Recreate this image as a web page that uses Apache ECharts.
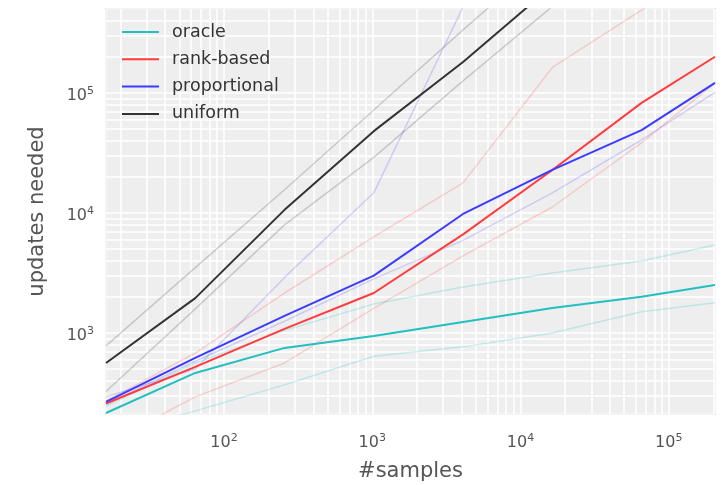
<!DOCTYPE html>
<html><head><meta charset="utf-8">
<script src="https://cdn.jsdelivr.net/npm/echarts@6/dist/echarts.min.js"></script>
<style>html,body{margin:0;padding:0;background:#fff}#c{width:726px;height:485px}</style>
</head><body><div id="c"></div>
<script>
// x positions (#samples)
const samples = [16, 64, 256, 1024, 4096, 16384, 65536, 205000];
// main curves
const oracle       = [215, 464, 750, 944, 1235, 1615, 2000, 2510];
const rankBased    = [258, 521, 1080, 2150, 6630, 22800, 82500, 200000];
const proportional = [266, 620, 1385, 3000, 9800, 22800, 49000, 121000];
const uniform      = [562, 1950, 10600, 48000, 181000, 780000, 3200000, 10000000];
// faint bands (upper / lower)
const oracleHi = [245, 560, 1050, 1740, 2417, 3160, 3980, 5400];
const oracleLo = [137, 224, 369, 640, 765, 1000, 1500, 1780];
const rankHi   = [270, 680, 2150, 6300, 17800, 163000, 490000, 1200000];
const rankLo   = [119, 293, 562, 1600, 4380, 11200, 38300, 121000];
const propHi   = [293, 500, 2900, 14700, 520000, 2000000, 8000000, 20000000];
const propLo   = [255, 580, 1250, 2820, 5900, 14700, 40500, 101000];
const uniHi    = [780, 3500, 15600, 72000, 335000, 1500000, 6000000, 20000000];
const uniLo    = [325, 1585, 7940, 29000, 126000, 525000, 2200000, 7000000];
// axis ranges and decades
const xRange = [16, 205000];
const yRange = [211, 500000];
const xDecades = [10, 100, 1000, 10000, 100000];
const yDecades = [100, 1000, 10000, 100000];
const legendNames = ['oracle', 'rank-based', 'proportional', 'uniform'];

function minorTicks(decades, range) {
  const out = [];
  decades.forEach(d => { for (let k = 2; k <= 9; k++) { const v = d * k; if (v > range[0] && v < range[1]) out.push(v); } });
  return out;
}
const pts = vals => samples.map((x, i) => [x, vals[i]]);
function line(name, vals, color, width, z) {
  return { name, type: 'line', data: pts(vals), symbol: 'none', showSymbol: false, clip: true,
    lineStyle: { color, width }, itemStyle: { color }, z, silent: true, animation: false };
}
function isPow10(v) { const l = Math.log10(v); return Math.abs(l - Math.round(l)) < 1e-6; }
function fmt(v) { if (!isPow10(v)) return ''; return '{b|10}{s|' + Math.round(Math.log10(v)) + '}'; }
const rich = { b: { fontSize: 16, color: '#555', fontFamily: 'DejaVu Sans' },
               s: { fontSize: 11, color: '#555', fontFamily: 'DejaVu Sans', padding: [0, 0, 9, 0] } };

const lineOpt = { color: '#ffffff', width: 1.5, type: 'solid' };
const gridSeries = { name: '_grid', type: 'line', data: [], z: 1, silent: true, animation: false,
  markLine: { z: 1, silent: true, symbol: ['none', 'none'], label: { show: false }, animation: false,
    lineStyle: lineOpt, emphasis: { disabled: true },
    data: minorTicks(xDecades, xRange).map(v => ({ xAxis: v }))
      .concat(minorTicks(yDecades, yRange).map(v => ({ yAxis: v }))) } };

const chart = echarts.init(document.getElementById('c'));
chart.setOption({
  animation: false,
  textStyle: { fontFamily: 'DejaVu Sans' },
  grid: { left: 106, right: 11, top: 9, bottom: 71, show: true, backgroundColor: '#eeeeee',
          borderColor: '#c2c2c2', borderWidth: 1.5, containLabel: false, outerBoundsMode: 'none' },
  legend: { data: legendNames, orient: 'vertical', left: 117, top: 18, itemWidth: 37, itemHeight: 18,
            icon: 'path://M0,0 L37,0 L37,2 L0,2 Z', z: 10,
            itemGap: 9.3, textStyle: { fontSize: 17.5, color: '#333', fontFamily: 'DejaVu Sans', padding: [0, 0, 0, 8] } },
  xAxis: { type: 'log', logBase: 10, min: xRange[0], max: xRange[1],
    name: '#samples', nameLocation: 'middle', nameGap: 47,
    nameTextStyle: { fontSize: 21, color: '#555', fontFamily: 'DejaVu Sans' },
    axisLine: { show: false }, axisTick: { show: false },
    splitLine: { show: true, lineStyle: { color: '#fff', width: 1.5 } },
    axisLabel: { formatter: fmt, margin: 19, rich } },
  yAxis: { type: 'log', logBase: 10, min: yRange[0], max: yRange[1],
    name: 'updates needed', nameLocation: 'middle', nameGap: 58, nameRotate: 90,
    nameTextStyle: { fontSize: 21, color: '#555', fontFamily: 'DejaVu Sans' },
    axisLine: { show: false }, axisTick: { show: false },
    splitLine: { show: true, lineStyle: { color: '#fff', width: 1.5 } },
    axisLabel: { formatter: fmt, margin: 12, rich, padding: [6, 0, 0, 0] } },
  series: [
    gridSeries,
    line('oracle-hi', oracleHi, 'rgba(0,190,190,0.2)', 1.5, 2),
    line('oracle-lo', oracleLo, 'rgba(0,190,190,0.2)', 1.5, 2),
    line('rank-hi', rankHi, 'rgba(255,0,0,0.15)', 1.5, 2),
    line('rank-lo', rankLo, 'rgba(255,0,0,0.15)', 1.5, 2),
    line('prop-hi', propHi, 'rgba(0,0,255,0.15)', 1.5, 2),
    line('prop-lo', propLo, 'rgba(0,0,255,0.15)', 1.5, 2),
    line('uni-hi', uniHi, 'rgba(0,0,0,0.17)', 1.5, 2),
    line('uni-lo', uniLo, 'rgba(0,0,0,0.17)', 1.5, 2),
    line('oracle', oracle, '#23bfbf', 2, 3),
    line('rank-based', rankBased, '#ff3b3b', 2, 3),
    line('proportional', proportional, '#3b3bff', 2, 3),
    line('uniform', uniform, '#333333', 2, 3)
  ]
});
</script></body></html>
